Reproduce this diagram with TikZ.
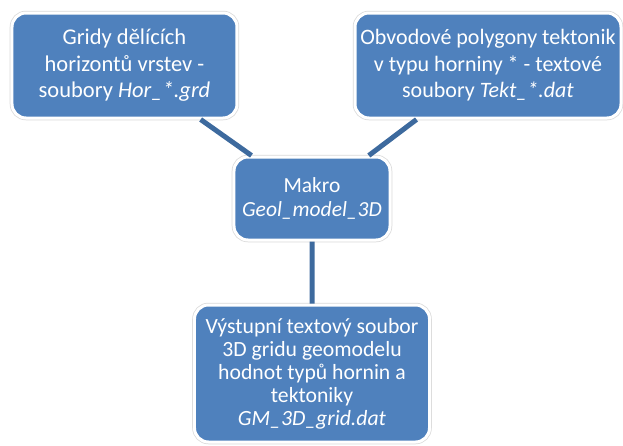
\documentclass[tikz,border=0pt]{standalone}
\usepackage{fontspec}
\setmainfont{Carlito}
\usetikzlibrary{positioning}
\definecolor{boxblue}{HTML}{4F81BD}
\definecolor{linkblue}{HTML}{3D6A9E}
\tikzset{
  box/.style={rectangle, rounded corners=14pt, fill=boxblue, draw=white, line width=3pt,
    preaction={draw=black!15, line width=4.5pt}, text=white, align=center, inner sep=0pt,
    font=\fontsize{22}{26.5}\selectfont},
  link/.style={draw=linkblue, line width=5pt}
}
\begin{document}
\begin{tikzpicture}[x=1pt,y=1pt,node distance=100pt,on grid]
  \useasboundingbox (-312,-246.5) rectangle (311,198.5);
  \node[box, minimum width=156pt, minimum height=83pt, font=\fontsize{21.5}{24}\selectfont] (makro) {Makro\\\textit{Geol\_model\_3D}};
  \node[box, minimum width=225pt, minimum height=105pt, font=\fontsize{22.5}{26.5}\selectfont] (grids) [above left=133pt and 187.5pt of makro] {Gridy dělících\\horizontů vrstev -\\soubory \textit{Hor\_*.grd}};
  \node[box, minimum width=266pt, minimum height=105pt] (tekt) [above right=133pt and 176pt of makro] {Obvodové polygony tektonik\\v typu horniny * - textové\\soubory \textit{Tekt\_*.dat}};
  \node[box, minimum width=235pt, minimum height=137pt, font=\fontsize{21.7}{23}\selectfont] (output) [below=175pt of makro] {Výstupní textový soubor\\3D gridu geomodelu\\hodnot typů hornin a\\tektoniky\\\textit{GM\_3D\_grid.dat}};
  \path[link] (grids) -- (makro)
              (tekt) -- (makro)
              (makro) -- (output);
\end{tikzpicture}
\end{document}
